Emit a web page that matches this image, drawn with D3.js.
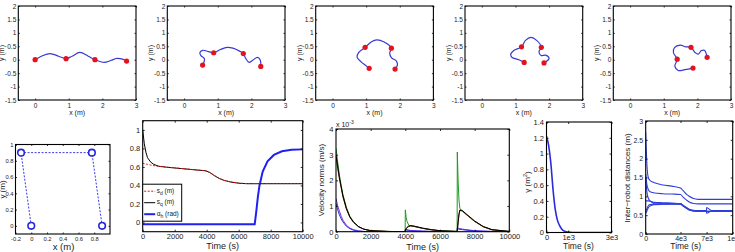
<!DOCTYPE html>
<html><head><meta charset="utf-8">
<script src="https://cdn.jsdelivr.net/npm/d3@7"></script>
<style>
body{margin:0;background:#fff}
svg{display:block}
text{font-family:"Liberation Sans",Arial,sans-serif;fill:#1a1a1a}
</style>
</head><body>
<svg id="c" width="735" height="252"></svg>
<script>
// ---------- DATA ----------
// Top row: robot trajectories (blue curve) and robot positions (red dots), x,y in metres
const path1 = [[0,0],[0.2,0.14],[0.45,0.23],[0.7,0.13],[0.92,0.04],[1.1,0.13],[1.33,0.27],[1.58,0.13],[1.78,0.0],[2.05,-0.1],[2.25,-0.03],[2.43,0.05],[2.6,0.02],[2.72,-0.05]];
const dots1 = [[0,0],[0.92,0.04],[1.78,0.0],[2.72,-0.05]];
const path2 = [[0.55,-0.2],[0.6,-0.05],[0.6,0.05],[0.5,0.15],[0.47,0.27],[0.55,0.35],[0.73,0.3],[0.88,0.26],[1.08,0.38],[1.28,0.46],[1.45,0.43],[1.65,0.32],[1.76,0.23],[1.83,0.05],[1.93,-0.1],[2.05,-0.01],[2.18,0.09],[2.26,0.0],[2.28,-0.25]];
const dots2 = [[0.55,-0.2],[0.88,0.26],[1.76,0.23],[2.28,-0.25]];
const path3 = [[1.09,-0.32],[0.97,-0.2],[0.85,-0.08],[0.73,0.1],[0.78,0.27],[0.97,0.46],[1.15,0.66],[1.32,0.74],[1.52,0.67],[1.75,0.43],[1.7,0.25],[1.75,0.08],[1.9,-0.05],[1.93,-0.2],[1.86,-0.35]];
const dots3 = [[1.09,-0.32],[0.97,0.46],[1.75,0.43],[1.86,-0.35]];
const path4 = [[1.26,-0.1],[1.1,0.0],[0.9,0.08],[0.86,0.2],[0.95,0.34],[1.18,0.48],[1.3,0.72],[1.46,0.83],[1.63,0.72],[1.77,0.46],[1.7,0.3],[1.76,0.16],[1.9,0.17],[2.0,0.05],[1.85,-0.12]];
const dots4 = [[1.26,-0.1],[1.18,0.48],[1.77,0.46],[1.85,-0.12]];
const path5 = [[1.87,-0.31],[1.63,-0.37],[1.43,-0.4],[1.33,-0.24],[1.4,0.02],[1.29,0.25],[1.32,0.45],[1.49,0.54],[1.65,0.48],[1.81,0.46],[1.93,0.27],[2.03,0.21],[2.11,0.33],[2.21,0.35],[2.29,0.09]];
const dots5 = [[1.4,0.02],[1.81,0.46],[2.29,0.09],[1.87,-0.31]];
const topXTicks = [0,1,2,3];
const topYTicks = [-1.5,-1,-0.5,0,0.5,1,1.5,2];

// Formation shape (bottom-left)
const formX = [0,-0.13,0.77,0.9];
const formY = [0,0.9,0.9,0];
const formXTicks = [-0.2,0,0.2,0.4,0.6,0.8];
const formYTicks = [0,0.2,0.4,0.6,0.8,1];

// s_d, s_q, alpha_h vs time
const tB    = [0,100,200,300,500,700,1000,1500,2000,2500,3000,3500,3900,4000,4200,4500,4800,5100,5500,6000,6500,7000,7100,7200,7300,7500,7800,8200,8700,9300,10000];
const sD    = [0.64,0.636,0.632,0.628,0.62,0.614,0.606,0.598,0.59,0.582,0.574,0.566,0.56,0.555,0.54,0.505,0.475,0.455,0.438,0.425,0.42,0.42,0.42,0.42,0.42,0.42,0.42,0.42,0.42,0.42,0.42];
const sQ    = [1.0,0.85,0.76,0.70,0.652,0.627,0.608,0.597,0.589,0.581,0.573,0.565,0.559,0.554,0.539,0.504,0.474,0.454,0.437,0.424,0.419,0.419,0.419,0.419,0.419,0.419,0.419,0.419,0.419,0.419,0.419];
const alphaH= [-0.02,-0.02,-0.02,-0.02,-0.02,-0.02,-0.02,-0.02,-0.02,-0.02,-0.02,-0.02,-0.02,-0.02,-0.02,-0.02,-0.02,-0.02,-0.02,-0.02,-0.02,-0.02,0.12,0.28,0.4,0.55,0.66,0.73,0.77,0.785,0.79];
const bXTicks = [0,2000,4000,6000,8000,10000];
const bYTicks = [0,0.2,0.4,0.6,0.8,1];

// Velocity norms (x 1e-3 m/s)
const tC     = [0,100,200,300,400,600,800,1000,1300,1600,2000,3000,3990,4000,4050,4100,4200,4300,4500,5000,5500,6000,6990,7000,7050,7100,7150,7300,7500,8000,8500,9000,10000];
const vGreen = [3.25,2.7,2.2,1.8,1.45,0.95,0.6,0.4,0.2,0.1,0.04,0.01,0,0.85,0.55,0.4,0.25,0.22,0.2,0.13,0.08,0.04,0.01,3.1,1.9,1.2,0.9,0.8,0.68,0.4,0.2,0.08,0.01];
const vBlack = [3.0,2.55,2.1,1.75,1.4,0.9,0.58,0.38,0.2,0.1,0.04,0.01,0,0.05,0.12,0.17,0.22,0.24,0.22,0.14,0.08,0.04,0.01,0.05,0.4,0.7,0.85,0.82,0.7,0.42,0.2,0.08,0.01];
const vBrown = [2.9,2.45,2.05,1.7,1.35,0.88,0.56,0.37,0.19,0.1,0.04,0.01,0,0.04,0.11,0.16,0.2,0.22,0.21,0.13,0.07,0.03,0.01,0.04,0.38,0.68,0.83,0.8,0.68,0.4,0.19,0.07,0.01];
const vPurple= [1.3,1.0,0.8,0.6,0.45,0.25,0.14,0.08,0.03,0.01,0,0,0,0.1,0.09,0.08,0.06,0.05,0.04,0.02,0.01,0,0,0.15,0.14,0.13,0.12,0.1,0.08,0.04,0.02,0.01,0];
const vBlue  = [1.1,0.85,0.65,0.5,0.38,0.21,0.12,0.06,0.02,0.01,0,0,0,0.08,0.07,0.06,0.05,0.04,0.03,0.02,0.01,0,0,0.12,0.11,0.1,0.09,0.08,0.06,0.03,0.02,0.01,0];
const cYTicks = [0,1,2,3,4];

// gamma (m^2)
const tD    = [0,100,200,300,400,500,600,700,800,1000,1200,3000];
const gamma = [1.22,1.1,0.88,0.55,0.3,0.16,0.09,0.045,0.02,0.005,0,0];
const dXTicks = [0,1000,3000];
const dXLabels = ["0","1e3","3e3"];
const dYTicks = [0,0.2,0.4,0.6,0.8,1,1.2,1.4];

// inter-robot distances (m)
const tE = [0,150,300,500,800,1000,2000,3000,4000,4300,4700,5000,5500,6000,6990,7000,7600,8000,10000];
const dist1 = [2.7,1.8,1.5,1.42,1.38,1.36,1.3,1.27,1.22,1.15,1.05,1.0,0.94,0.92,0.92,0.92,0.92,0.92,0.92];
const dist2 = [1.6,1.3,1.18,1.12,1.1,1.09,1.07,1.06,1.05,0.98,0.9,0.85,0.81,0.8,0.8,0.8,0.8,0.8,0.8];
const dist3 = [1.5,1.1,0.95,0.88,0.85,0.84,0.83,0.82,0.81,0.76,0.7,0.66,0.63,0.62,0.62,0.7,0.62,0.62,0.62];
const dist4 = [0.88,0.88,0.88,0.87,0.83,0.8,0.8,0.8,0.8,0.76,0.7,0.65,0.62,0.61,0.61,0.55,0.61,0.61,0.61];
const dist5 = [0.55,0.62,0.7,0.74,0.77,0.78,0.79,0.8,0.8,0.75,0.68,0.64,0.61,0.6,0.6,0.6,0.6,0.6,0.6];
const dist6 = [0.6,0.68,0.75,0.78,0.79,0.79,0.8,0.8,0.79,0.74,0.68,0.64,0.61,0.6,0.6,0.6,0.6,0.6,0.6];
const eXTicks = [0,4000,7000,10000];
const eXLabels = ["0","4e3","7e3","1e4"];
const eYTicks = [0,0.5,1,1.5,2,2.5,3];

// ---------- DRAWING ----------
const svg = d3.select("#c");
let clipN = 0;
const fmt = v => String(v);

function panel(o){
  const g = svg.append("g").attr("transform",`translate(${o.left},${o.top})`);
  const x = d3.scaleLinear().domain(o.xd).range([0,o.w]);
  const y = d3.scaleLinear().domain(o.yd).range([o.h,0]);
  const tl = o.tl || 2;
  const id = "clip"+(clipN++);
  g.append("clipPath").attr("id",id).append("rect").attr("width",o.w).attr("height",o.h);
  g.append("rect").attr("width",o.w).attr("height",o.h).attr("fill","#fff");
  const plot = g.append("g").attr("clip-path",`url(#${id})`);
  const xf = o.xl ? ((v)=>o.xl[o.xt.indexOf(v)]) : fmt;
  const axes = g.append("g");
  axes.append("g").attr("transform",`translate(0,${o.h})`)
    .call(d3.axisBottom(x).tickValues(o.xt).tickFormat(xf).tickSize(-tl).tickPadding(o.xpad||3));
  axes.append("g")
    .call(d3.axisTop(x).tickValues(o.xt).tickFormat("").tickSize(-tl));
  axes.append("g")
    .call(d3.axisLeft(y).tickValues(o.yt).tickFormat(o.yf||fmt).tickSize(-tl).tickPadding(o.ypad||2.5));
  axes.append("g").attr("transform",`translate(${o.w},0)`)
    .call(d3.axisRight(y).tickValues(o.yt).tickFormat("").tickSize(-tl));
  axes.selectAll(".domain").remove();
  axes.selectAll(".tick line").attr("stroke","#000").attr("stroke-width",0.8);
  axes.selectAll("g").attr("font-family",null).attr("font-size",null);
  axes.selectAll(".tick text").attr("font-size",o.fs).attr("fill","#1a1a1a");
  g.append("rect").attr("width",o.w).attr("height",o.h)
    .attr("fill","none").attr("stroke","#000").attr("stroke-width",1.1);
  return {g,plot,x,y};
}

// ---- Top row ----
const topPaths = [path1,path2,path3,path4,path5];
const topDots = [dots1,dots2,dots3,dots4,dots5];
const topLefts = [18.3,167.3,315.7,465,613.3];
topLefts.forEach((L,i)=>{
  const p = panel({left:L,top:6,w:117.7,h:94,xd:[-0.5,3],yd:[-1.5,2],xt:topXTicks,yt:topYTicks,fs:6.5,xpad:3.2,ypad:2,tl:1.5});
  const line = d3.line().x(d=>p.x(d[0])).y(d=>p.y(d[1])).curve(d3.curveCatmullRom.alpha(0.5));
  p.plot.append("path").attr("d",line(topPaths[i])).attr("fill","none").attr("stroke","#3838d2").attr("stroke-width",1.2);
  p.plot.selectAll("circle").data(topDots[i]).join("circle")
    .attr("cx",d=>p.x(d[0])).attr("cy",d=>p.y(d[1])).attr("r",2.6).attr("fill","#e3121c");
  p.g.append("text").attr("x",117.7/2).attr("y",108.5).attr("text-anchor","middle").attr("font-size",7).text("x (m)");
  p.g.append("text").attr("transform",`translate(${-14},47) rotate(-90)`).attr("text-anchor","middle").attr("font-size",7).text("y (m)");
});

// ---- Panel A: formation ----
{
  const p = panel({left:15.5,top:144.5,w:94.5,h:89.5,xd:[-0.2,1.0],yd:[-0.1,1.0],xt:formXTicks,yt:formYTicks,fs:5.8,xpad:2.5,ypad:2,tl:1.5});
  const pts = formX.map((v,i)=>[v,formY[i]]);
  const line = d3.line().x(d=>p.x(d[0])).y(d=>p.y(d[1]));
  p.plot.append("path").attr("d",line(pts)).attr("fill","none").attr("stroke","#3a3ae0").attr("stroke-width",1).attr("stroke-dasharray","2,1.5");
  p.g.selectAll("circle.f").data(pts).join("circle").attr("class","f")
    .attr("cx",d=>p.x(d[0])).attr("cy",d=>p.y(d[1])).attr("r",3.3)
    .attr("fill","#fff").attr("stroke","#2525e0").attr("stroke-width",1.6);
  p.g.append("text").attr("x",48).attr("y",105.3).attr("text-anchor","middle").attr("font-size",9.5).text("x (m)");
  p.g.append("text").attr("transform",`translate(-11,45) rotate(-90)`).attr("text-anchor","middle").attr("font-size",8).text("y (m)");
}

// ---- Panel B: s_d, s_q, alpha_h ----
{
  const p = panel({left:142.7,top:120.7,w:160,h:111,xd:[0,10000],yd:[-0.1,1.1],xt:bXTicks,yt:bYTicks,fs:7.5,xpad:2,ypad:2.5});
  const mk = arr => d3.line().x((d,i)=>p.x(tB[i])).y(d=>p.y(d))(arr);
  p.plot.append("path").attr("d",mk(alphaH)).attr("fill","none").attr("stroke","#2020f0").attr("stroke-width",2);
  p.plot.append("path").attr("d",mk(sQ)).attr("fill","none").attr("stroke","#000").attr("stroke-width",1);
  p.plot.append("path").attr("d",mk(sD)).attr("fill","none").attr("stroke","#e01010").attr("stroke-width",1).attr("stroke-dasharray","2,1.5");
  p.g.append("text").attr("x",80).attr("y",128.8).attr("text-anchor","middle").attr("font-size",9).text("Time (s)");
  const lg = p.g.append("g").attr("transform","translate(0,63.5)");
  lg.append("rect").attr("width",39).attr("height",37).attr("fill","#fff").attr("stroke","#000").attr("stroke-width",1);
  const items = [
    {c:"#e01010",w:1,dash:"2,1.5",main:"s",sub:"d",unit:" (m)"},
    {c:"#000",w:1,dash:null,main:"s",sub:"q",unit:" (m)"},
    {c:"#2020f0",w:2,dash:null,main:"\u03b1",sub:"h",unit:" (rad)"}
  ];
  items.forEach((it,i)=>{
    const yy = 7 + i*11.5;
    lg.append("line").attr("x1",1.5).attr("x2",12.5).attr("y1",yy).attr("y2",yy)
      .attr("stroke",it.c).attr("stroke-width",it.w).attr("stroke-dasharray",it.dash);
    const t = lg.append("text").attr("x",14).attr("y",yy+1.5).attr("font-size",6.5);
    t.append("tspan").text(it.main);
    t.append("tspan").attr("dy",2).attr("font-size",5).text(it.sub);
    t.append("tspan").attr("dy",-2).text(it.unit);
  });
}

// ---- Panel C: velocity norms ----
{
  const p = panel({left:336,top:129,w:173.3,h:102.7,xd:[0,10000],yd:[0,4],xt:bXTicks,yt:cYTicks,fs:7.5,xpad:2,ypad:2.5});
  const mk = arr => d3.line().x((d,i)=>p.x(tC[i])).y(d=>p.y(d))(arr);
  [[vPurple,"#7a2fc8"],[vBlue,"#3030e0"],[vGreen,"#1f9a1f"],[vBrown,"#8a2a10"],[vBlack,"#000"]].forEach(([a,c])=>{
    p.plot.append("path").attr("d",mk(a)).attr("fill","none").attr("stroke",c).attr("stroke-width",1);
  });
  p.g.append("text").attr("x",86.6).attr("y",120.5).attr("text-anchor","middle").attr("font-size",9).text("Time (s)");
  const t = p.g.append("text").attr("x",0).attr("y",-2.5).attr("font-size",7);
  t.append("tspan").text("x 10");
  t.append("tspan").attr("dy",-3).attr("font-size",5).text("-3");
  p.g.append("text").attr("transform",`translate(-12.5,51) rotate(-90)`).attr("text-anchor","middle").attr("font-size",8).text("Velocity norms (m/s)");
}

// ---- Panel D: gamma ----
{
  const p = panel({left:546.5,top:122,w:65,h:110.5,xd:[0,3000],yd:[0,1.4],xt:dXTicks,xl:dXLabels,yt:dYTicks,fs:7.5,xpad:2,ypad:2.5});
  const line = d3.line().x((d,i)=>p.x(tD[i])).y(d=>p.y(d)).curve(d3.curveMonotoneX);
  p.plot.append("path").attr("d",line(gamma)).attr("fill","none").attr("stroke","#2a2ae0").attr("stroke-width",1.6);
  p.g.append("text").attr("x",32).attr("y",126.8).attr("text-anchor","middle").attr("font-size",8.5).text("Time (s)");
  const t = p.g.append("text").attr("transform",`translate(-16.5,60) rotate(-90)`).attr("text-anchor","middle").attr("font-size",8);
  t.append("tspan").text("\u03b3 (m");
  t.append("tspan").attr("dy",-3).attr("font-size",5.5).text("2");
  t.append("tspan").attr("dy",3).text(")");
}

// ---- Panel E: inter-robot distances ----
{
  const p = panel({left:645.7,top:121,w:87,h:113,xd:[0,10000],yd:[0,3],xt:eXTicks,xl:eXLabels,yt:eYTicks,fs:7,xpad:2,ypad:2.5});
  const mk = arr => d3.line().x((d,i)=>p.x(tE[i])).y(d=>p.y(d)).curve(d3.curveMonotoneX)(arr);
  [dist1,dist2,dist3,dist4,dist5,dist6].forEach(a=>{
    p.plot.append("path").attr("d",mk(a)).attr("fill","none").attr("stroke","#2f3fdc").attr("stroke-width",1.1);
  });
  p.g.append("text").attr("x",40).attr("y",128).attr("text-anchor","middle").attr("font-size",8.5).text("Time (s)");
  p.g.append("text").attr("transform",`translate(-16,57) rotate(-90)`).attr("text-anchor","middle").attr("font-size",8).text("Inter\u2212robot distances (m)");
}
</script>
</body></html>
